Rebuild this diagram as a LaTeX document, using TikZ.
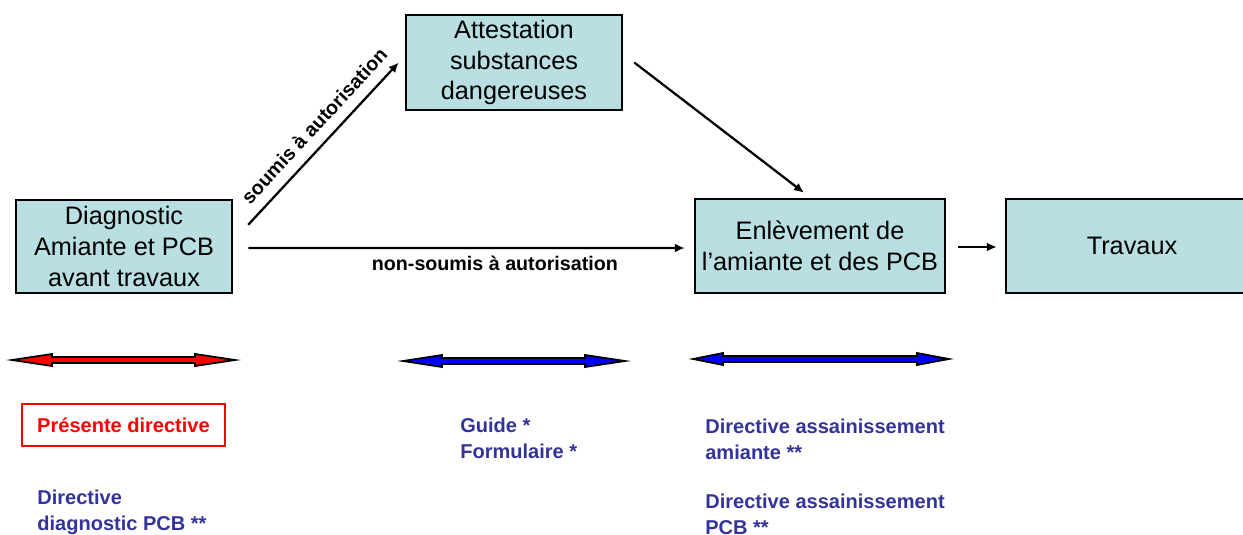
\documentclass[tikz,border=0pt]{standalone}
\usepackage{fontspec}
\setmainfont{Liberation Sans}
\usetikzlibrary{arrows.meta,calc}
\definecolor{boxfill}{RGB}{185,223,226}
\definecolor{txtblue}{RGB}{51,51,153}
\begin{document}
\begin{tikzpicture}[x=0.02cm,y=-0.02cm,
  stepbox/.style={draw=black, line width=0.05cm, fill=boxfill, align=center,
    font=\fontsize{14.4}{17.4}\selectfont, inner sep=0pt},
  conn/.style={line width=0.045cm, -{Latex[length=0.2cm,width=0.18cm]}},
  lbl/.style={font=\bfseries\fontsize{11.2}{13}\selectfont, inner sep=0pt},
  note/.style={text=txtblue, font=\bfseries\fontsize{11.4}{14.8}\selectfont,
    align=left, anchor=north west, inner sep=0pt},
  dblred/.style={draw=black, line width=0.035cm, fill=red},
  dblblue/.style={draw=black, line width=0.035cm, fill=blue}]
\useasboundingbox (0,0) rectangle (1243,534);
\clip (0,0) rectangle (1243,534);

% boxes
\node[stepbox, minimum width=216*0.02cm, minimum height=93*0.02cm] (d) at (124,246.5)
  {Diagnostic\\Amiante et PCB\\avant travaux};
\node[stepbox, minimum width=216*0.02cm, minimum height=95*0.02cm] (a) at (514,62.5)
  {Attestation\\substances\\dangereuses};
\node[stepbox, minimum width=250*0.02cm, minimum height=94*0.02cm] (e) at (820,246)
  {Enlèvement de\\l'amiante et des PCB};
\node[stepbox, minimum width=252*0.02cm, minimum height=94*0.02cm] (t) at (1132,246)
  {Travaux};

% connectors
\draw[conn] ($(d.north east)+(15,26)$) --
  node[lbl, sloped, above=6pt, pos=0.53] {soumis à autorisation}
  ($(a.west)+(-6,0)$);
\draw[conn] ($(d.east)+(15,1.5)$) --
  node[lbl, below=4pt, pos=0.565] {non-soumis à autorisation}
  ($(e.west)+(-9,2)$);
\draw[conn] ($(a.east)+(11,0)$) -- ($(e.north)+(-16,-5)$);
\draw[conn] ($(e.east)+(12,1)$) -- ($(t.west)+(-8,1)$);

% double arrows
\draw[dblred] (12,360) -- (52,354) -- (52,357) -- (195,357) -- (195,354) -- (235,360)
  -- (195,366) -- (195,363) -- (52,363) -- (52,366) -- cycle;
\draw[dblblue] (403,361) -- (442,355) -- (442,358) -- (585,358) -- (585,355) -- (625,361)
  -- (585,367) -- (585,364) -- (442,364) -- (442,367) -- cycle;
\draw[dblblue] (693,359) -- (723,353) -- (723,356) -- (917,356) -- (917,353) -- (949,359)
  -- (917,365) -- (917,362) -- (723,362) -- (723,365) -- cycle;

% notes
\node[draw=red, line width=0.04cm, text=red, font=\bfseries\fontsize{11.4}{14.8}\selectfont,
  minimum width=203*0.02cm, minimum height=42*0.02cm, inner sep=0pt] (p) at (123.5,425)
  {Présente directive};
\node[note] (n1) at (37,489.5) {Directive\\diagnostic PCB **};
\node[note] (n2) at (460,417.5) {Guide *\\Formulaire *};
\node[note] (n3) at (705,418.5) {Directive assainissement\\amiante **};
\node[note] (n4) at (705,493.5) {Directive assainissement\\PCB **};
\end{tikzpicture}
\end{document}
